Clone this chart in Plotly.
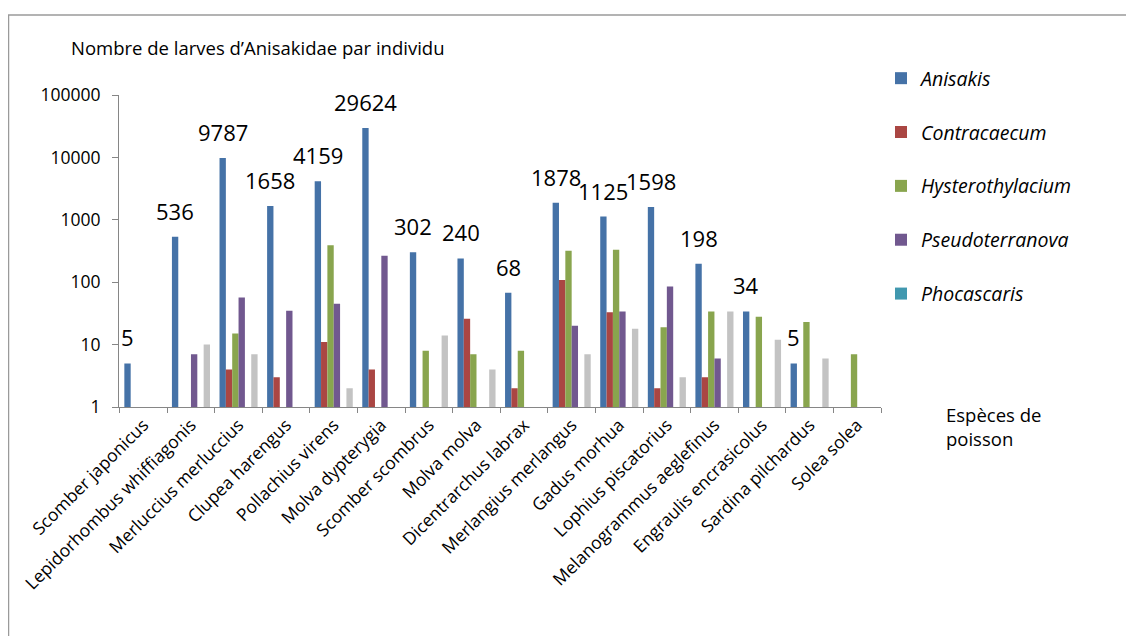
import math
import plotly.graph_objects as go

categories = ["Scomber japonicus", "Lepidorhombus whiffiagonis", "Merluccius merluccius",
              "Clupea harengus", "Pollachius virens", "Molva dypterygia",
              "Scomber scombrus", "Molva molva", "Dicentrarchus labrax", "Merlangius merlangus",
              "Gadus morhua", "Lophius piscatorius", "Melanogrammus aeglefinus",
              "Engraulis encrasicolus", "Sardina pilchardus", "Solea solea"]

anisakis = [5, 536, 9787, 1658, 4159, 29624, 302, 240, 68, 1878, 1125, 1598, 198, 34, 5, None]
contracaecum = [None, None, 4, 3, 11, 4, None, 26, 2, 108, 33, 2, 3, None, None, None]
hysterothylacium = [None, None, 15, None, 390, None, 8, 7, 8, 320, 330, 19, 34, 28, 23, 7]
pseudoterranova = [None, 7, 57, 35, 45, 265, None, None, None, 20, 34, 85, 6, None, None, None]
phocascaris = [None] * 16
other = [None, 10, 7, None, 2, None, 14, 4, None, 7, 18, 3, 34, 12, 6, None]

series = [
    ("Anisakis", anisakis, "#4572A7", True),
    ("Contracaecum", contracaecum, "#AA4643", True),
    ("Hysterothylacium", hysterothylacium, "#89A54E", True),
    ("Pseudoterranova", pseudoterranova, "#71588F", True),
    ("Phocascaris", phocascaris, "#4198AF", True),
    ("Autres", other, "#C3C3C3", False),
]

FONT = "Open Sans"

# page is offset by the 8px body margin
OFF = 8
FW, FH = 1134 - OFF, 636 - OFF
L = 119 - OFF
T = 95 - OFF
R = FW - (881 - OFF)
B = FH - (407 - OFF)
W = FW - L - R
H = FH - T - B

def px(xpage):
    return (xpage - OFF - L) / W

def py(ypage):
    return (FH - B - (ypage - OFF)) / H

fig = go.Figure()
for name, vals, color, show in series:
    fig.add_trace(go.Bar(
        x=categories, y=vals, name=f"<i>{name}</i>" if show else name,
        marker=dict(color=color, line=dict(width=0)),
        showlegend=show, legendgroup=name,
    ))

cat_w = W / len(categories)
bar_w = cat_w * 0.8 / 6
for c, v in zip(categories, anisakis):
    if v is None:
        continue
    fig.add_annotation(x=c, y=math.log10(v), xref="x", yref="y", text=str(v),
                       showarrow=False, xshift=-2.5 * bar_w, yshift=26,
                       font=dict(family=FONT, size=22, color="black"))

fig.add_annotation(x=px(69), y=py(47), xref="paper", yref="paper",
                   text="Nombre de larves d’Anisakidae par individu", showarrow=False,
                   xanchor="left", yanchor="middle",
                   font=dict(family=FONT, size=18.5, color="black"))
fig.add_annotation(x=px(944), y=py(426), xref="paper", yref="paper",
                   text="Espèces de<br>poisson", showarrow=False, align="left",
                   xanchor="left", yanchor="middle",
                   font=dict(family=FONT, size=18.5, color="black"))

fig.add_shape(type="rect", xref="paper", yref="paper",
              x0=px(8.5), x1=px(1150), y0=py(660), y1=py(15),
              line=dict(color="#9A9A9A", width=1.5), layer="below")

fig.update_layout(
    width=FW, height=FH,
    margin=dict(l=L, r=R, t=T, b=B, pad=0),
    paper_bgcolor="white", plot_bgcolor="white",
    barmode="group", bargap=0.2, bargroupgap=0,
    font=dict(family=FONT, color="black"),
    legend=dict(x=px(881), y=py(59), xanchor="left", yanchor="top",
                font=dict(family=FONT, size=19.5, color="black"),
                tracegroupgap=25.5, bgcolor="rgba(0,0,0,0)"),
    xaxis=dict(showline=True, linecolor="#868686", linewidth=1,
               ticks="outside", tickson="boundaries", ticklen=5, tickcolor="#868686",
               tickangle=-45, tickfont=dict(family=FONT, size=17.5, color="black"),
               showgrid=False, zeroline=False),
    yaxis=dict(type="log", range=[0, 5], showline=True, linecolor="#868686", linewidth=1,
               ticks="outside", ticklen=6, tickcolor="#868686",
               tickvals=[1, 10, 100, 1000, 10000, 100000],
               ticktext=["1", "10", "100", "1000", "10000", "100000"],
               tickfont=dict(family=FONT, size=17.5, color="black"),
               showgrid=False, zeroline=False, ticklabelstandoff=8),
)

fig.write_html("out.html")
